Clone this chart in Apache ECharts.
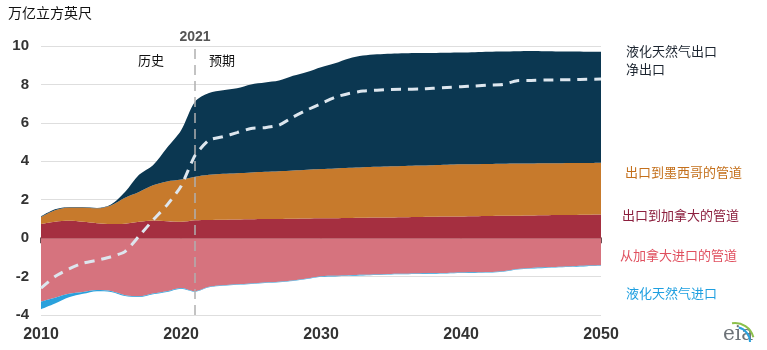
<!DOCTYPE html>
<html>
<head>
<meta charset="utf-8">
<script src="https://cdn.jsdelivr.net/npm/echarts@6/dist/echarts.min.js"></script>
<style>
  html, body { margin: 0; padding: 0; background: #fff; }
  #chart { width: 767px; height: 350px; }
</style>
</head>
<body>
<div id="chart"></div>
<script>
// years 2010..2050
var years = [];
for (var y = 2010; y <= 2050; y++) years.push(String(y));

var tickYears = ['2010', '2020', '2030', '2040', '2050'];

// trillion cubic feet per year
var pipeCanadaExp = [0.73, 0.85, 0.9, 0.85, 0.78, 0.73, 0.75, 0.85, 0.92, 0.88,
    0.85, 0.93, 0.95, 0.96, 0.97, 0.98, 0.99, 1.0, 1.01, 1.02,
    1.03, 1.04, 1.05, 1.06, 1.07, 1.08, 1.09, 1.1, 1.11, 1.12,
    1.13, 1.14, 1.15, 1.16, 1.17, 1.18, 1.19, 1.2, 1.21, 1.22, 1.23];
var pipeMexicoExp = [0.37, 0.6, 0.7, 0.75, 0.77, 0.97, 1.35, 1.55, 1.83, 2.07,
    2.2, 2.27, 2.35, 2.39, 2.41, 2.44, 2.46, 2.48, 2.51, 2.54,
    2.57, 2.59, 2.61, 2.63, 2.64, 2.66, 2.67, 2.68, 2.69, 2.7,
    2.71, 2.71, 2.71, 2.71, 2.71, 2.71, 2.71, 2.7, 2.7, 2.69, 2.69];
var lngExp = [0.03, 0.05, 0.02, 0.02, 0.02, 0.05, 0.3, 0.9, 1.05, 1.75,
    2.55, 3.9, 4.25, 4.35, 4.42, 4.58, 4.65, 4.72, 4.93, 5.09,
    5.3, 5.47, 5.69, 5.81, 5.86, 5.86, 5.86, 5.85, 5.84, 5.83,
    5.82, 5.83, 5.84, 5.84, 5.85, 5.85, 5.83, 5.82, 5.8, 5.79, 5.78];
var pipeCanadaImp = [-3.3, -3.1, -2.9, -2.8, -2.7, -2.75, -2.97, -3.02, -2.88, -2.76,
    -2.59, -2.76, -2.53, -2.45, -2.4, -2.36, -2.31, -2.27, -2.2, -2.1,
    -1.98, -1.96, -1.93, -1.91, -1.89, -1.86, -1.85, -1.84, -1.82, -1.81,
    -1.79, -1.78, -1.76, -1.72, -1.6, -1.55, -1.52, -1.49, -1.46, -1.43, -1.41];
var lngImp = [-0.4, -0.3, -0.18, -0.1, -0.06, -0.05, -0.04, -0.04, -0.04, -0.04,
    -0.04, -0.03, -0.03, -0.03, -0.03, -0.03, -0.03, -0.03, -0.03, -0.03,
    -0.03, -0.03, -0.03, -0.03, -0.03, -0.03, -0.03, -0.03, -0.03, -0.03,
    -0.03, -0.03, -0.03, -0.03, -0.03, -0.03, -0.03, -0.03, -0.03, -0.03, -0.03];
var netExp = [-2.6, -2.0, -1.6, -1.3, -1.15, -0.97, -0.7, 0.1, 0.94, 1.72,
    2.7, 4.3, 5.1, 5.28, 5.49, 5.71, 5.75, 5.88, 6.3, 6.67,
    7.0, 7.33, 7.53, 7.66, 7.7, 7.74, 7.75, 7.76, 7.8, 7.84,
    7.88, 7.92, 7.97, 8.0, 8.19, 8.21, 8.23, 8.24, 8.25, 8.27, 8.28];

var cjk = '"Noto Sans CJK SC", sans-serif';

var myChart = echarts.init(document.getElementById('chart'));

function area(name, data, color) {
    return {
        name: name,
        type: 'line',
        stack: 'total',
        data: data,
        smooth: 0.3,
        showSymbol: false,
        lineStyle: { width: 0 },
        areaStyle: { color: color, opacity: 1 },
        itemStyle: { color: color },
        silent: true
    };
}

var showTick = function(i, v) { return tickYears.indexOf(v) >= 0; };

var series = [
    area('出口到加拿大的管道', pipeCanadaExp, '#a52f40'),
    area('出口到墨西哥的管道', pipeMexicoExp, '#c77a2c'),
    area('液化天然气出口', lngExp, '#0b3751'),
    area('从加拿大进口的管道', pipeCanadaImp, '#d6737e'),
    area('液化天然气进口', lngImp, '#2aa1dc'),
    {
        name: '净出口',
        type: 'line',
        data: netExp,
        smooth: 0.2,
        showSymbol: false,
        lineStyle: { color: '#dde6ee', width: 3, type: [10, 7] },
        silent: true,
        z: 5,
        markLine: {
            silent: true,
            symbol: 'none',
            lineStyle: { color: '#b0b0b0', width: 1.5, type: [10, 6] },
            label: {
                show: true, position: 'end', formatter: '2021',
                color: '#555', fontSize: 14, fontWeight: 'bold',
                fontFamily: 'Arial', distance: 2
            },
            data: [{ xAxis: '2021' }]
        }
    }
];

var option = {
    animation: false,
    grid: { left: 41, right: 166, top: 46, bottom: 35 },
    xAxis: [{
        type: 'category',
        data: years,
        boundaryGap: false,
        position: 'bottom',
        axisLine: { show: false, onZero: false },
        axisTick: { show: false },
        axisLabel: {
            interval: showTick,
            color: '#333', fontSize: 16, fontWeight: 'bold', fontFamily: 'Arial', margin: 12
        },
        splitLine: { show: false }
    }, {
        type: 'category',
        data: years,
        boundaryGap: false,
        position: 'bottom',
        axisLine: { show: true, onZero: true, lineStyle: { color: '#3b1219', width: 1.5 } },
        axisTick: { show: true, length: 5, interval: showTick, lineStyle: { color: '#3b1219', width: 1.5 } },
        axisLabel: { show: false }
    }],
    yAxis: {
        type: 'value',
        min: -4, max: 10, interval: 2,
        axisLine: { show: false },
        axisTick: { show: false },
        axisLabel: { color: '#333', fontSize: 15, fontWeight: 'bold', fontFamily: 'Arial', margin: 12 },
        splitLine: { lineStyle: { color: '#dedede', width: 1 } }
    },
    series: series,
    graphic: [
        { type: 'text', left: 8, top: 6, style: { text: '万亿立方英尺', font: '14px ' + cjk, fill: '#111' } },
        { type: 'text', left: 138, top: 54, style: { text: '历史', font: '13px ' + cjk, fill: '#111' } },
        { type: 'text', left: 209, top: 54, style: { text: '预期', font: '13px ' + cjk, fill: '#111' } },
        { type: 'text', left: 626, top: 45, style: { text: '液化天然气出口', font: '13px ' + cjk, fill: '#1c2530' } },
        { type: 'text', left: 626, top: 63, style: { text: '净出口', font: '13px ' + cjk, fill: '#1c2530' } },
        { type: 'text', left: 625, top: 166, style: { text: '出口到墨西哥的管道', font: '13px ' + cjk, fill: '#c4701c' } },
        { type: 'text', left: 622, top: 209, style: { text: '出口到加拿大的管道', font: '13px ' + cjk, fill: '#8c1f3e' } },
        { type: 'text', left: 620, top: 249, style: { text: '从加拿大进口的管道', font: '13px ' + cjk, fill: '#e0505f' } },
        { type: 'text', left: 626, top: 287, style: { text: '液化天然气进口', font: '13px ' + cjk, fill: '#1e9fe0' } },
        // eia logo
        { type: 'text', left: 723, top: 325, style: { text: 'eia', font: '20px "DejaVu Serif", serif', fill: '#6d7378' } },
        { type: 'arc', shape: { cx: 735, cy: 342, r: 19, startAngle: -Math.PI * 0.55, endAngle: -Math.PI * 0.08 },
          style: { stroke: '#8cc04a', lineWidth: 2, fill: null } },
        { type: 'arc', shape: { cx: 735, cy: 342, r: 15, startAngle: -Math.PI * 0.42, endAngle: 0 },
          style: { stroke: '#2aa1dc', lineWidth: 2, fill: null } }
    ]
};

myChart.setOption(option);
</script>
</body>
</html>
